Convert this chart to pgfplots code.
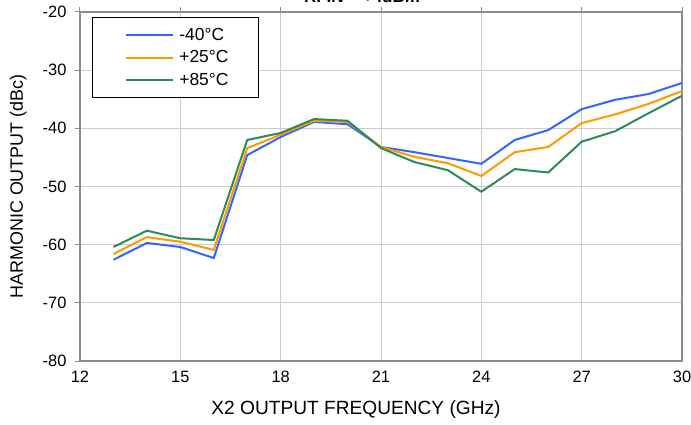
\documentclass[border=0pt]{standalone}
\usepackage{pgfplots}
\pgfplotsset{compat=1.18}
\usepackage{fontspec}
\setmainfont{Liberation Sans}
\definecolor{cblue}{RGB}{51,102,255}
\definecolor{corange}{RGB}{255,153,0}
\definecolor{cgreen}{RGB}{46,139,87}
\definecolor{frame}{RGB}{140,140,140}
\definecolor{gridc}{RGB}{205,205,205}
\pgfplotstableread{
f m40 p25 p85
13 -62.6 -61.6 -60.4
14 -59.7 -58.7 -57.6
15 -60.4 -59.5 -58.9
16 -62.3 -60.9 -59.2
17 -44.6 -43.4 -42.0
18 -41.5 -41.1 -40.8
19 -38.9 -38.7 -38.4
20 -39.3 -38.9 -38.7
21 -43.2 -43.2 -43.4
22 -44.1 -44.9 -45.8
23 -45.1 -46.0 -47.2
24 -46.1 -48.2 -50.9
25 -42.0 -44.1 -47.0
26 -40.3 -43.2 -47.6
27 -36.7 -39.1 -42.3
28 -35.1 -37.6 -40.5
29 -34.1 -35.8 -37.4
30 -32.2 -33.6 -34.4
}\datatable
\begin{document}
\begin{tikzpicture}
\begin{axis}[
  at={(0,0)}, anchor=south west,
  scale only axis, width=602bp, height=349bp,
  xmin=12, xmax=30, ymin=-80, ymax=-20,
  xtick={12,15,...,30}, ytick={-80,-70,...,-20},
  /pgf/number format/assume math mode=true,
  ticklabel style={font=\fontsize{16.5}{18}\selectfont},
  xlabel={X2 OUTPUT FREQUENCY (GHz)},
  ylabel={HARMONIC OUTPUT (dBc)},
  xlabel style={font=\fontsize{19.2}{21}\selectfont, at={(0.5,0)}, anchor=north, yshift=-36bp, xshift=-25bp},
  ylabel style={font=\fontsize{18}{20}\selectfont, at={(0,0.5)}, anchor=south, yshift=50bp},
  grid=major, major grid style={gridc, line width=1bp},
  axis line style={frame, line width=1.8bp},
  tick style={frame, line width=1bp},
  xtick pos=right, ytick pos=left,
  tick align=outside, major tick length=5bp,
  xticklabel pos=left,
  xticklabel style={yshift=-2bp},
  yticklabel style={xshift=-5bp},
  legend style={at={(rel axis cs:0.02,0.985)}, anchor=north west, draw=black, line width=0.8bp,
    font=\fontsize{17.5}{19}\selectfont, inner xsep=12bp, inner ysep=8.5bp, row sep=5bp},
  legend cell align=left,
  legend image code/.code={\path (-21bp,0bp); \draw[#1, line width=2bp] (0bp,0bp) -- (47bp,0bp);},
  every axis plot/.append style={line width=2bp},
]
\addplot[cblue] table[x=f, y=m40] {\datatable};
\addplot[corange] table[x=f, y=p25] {\datatable};
\addplot[cgreen] table[x=f, y=p85] {\datatable};
\legend{\,-40°C\hspace*{16bp}, \,+25°C\hspace*{16bp}, \,+85°C\hspace*{16bp}}
\end{axis}
\node[anchor=base, font=\bfseries\fontsize{17}{19}\selectfont] at (282bp,358bp) {RFIN = +4dBm};
\pgfresetboundingbox
\path[use as bounding box] (-80bp,-64bp) rectangle (611bp,361bp);
\end{tikzpicture}
\end{document}
